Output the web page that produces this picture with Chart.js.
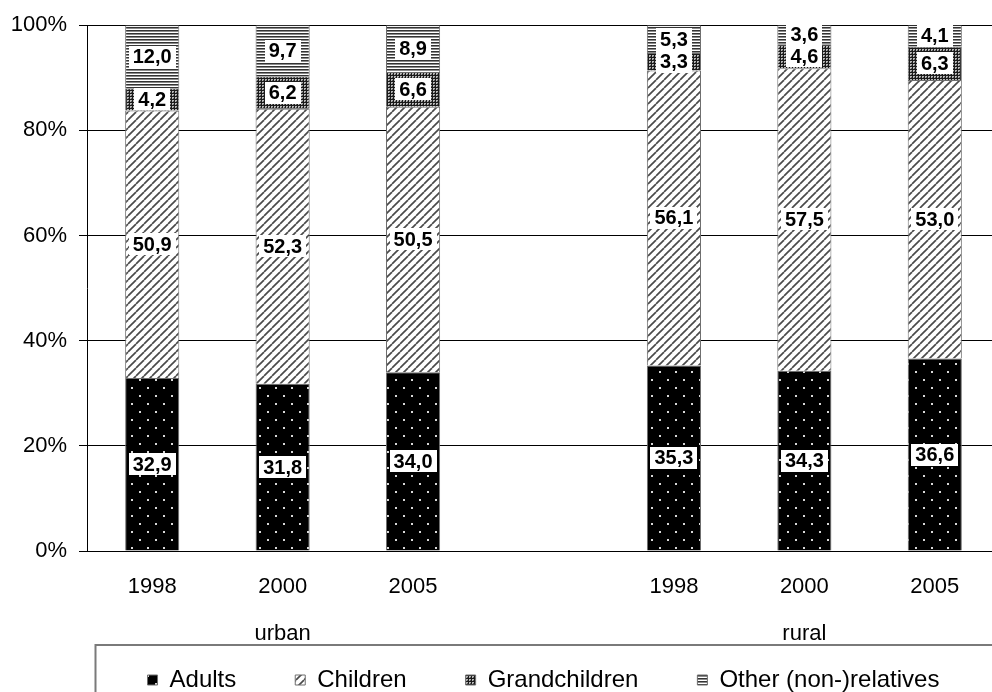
<!DOCTYPE html>
<html>
<head>
<meta charset="utf-8">
<script src="https://cdn.jsdelivr.net/npm/chart.js@4/dist/chart.umd.min.js"></script>
<style>
  html, body { margin: 0; padding: 0; background: #fff; overflow: hidden; }
  #wrap { width: 1010px; height: 737px; }
</style>
</head>
<body>
<div id="wrap"><canvas id="c" width="1010" height="737"></canvas></div>
<script>
// Household composition by relation to head, urban vs rural (percent of members)
const years = ['1998', '2000', '2005', '', '1998', '2000', '2005'];
const areas = ['', 'urban', '', '', '', 'rural', ''];
const adults        = [32.9, 31.8, 34.0, null, 35.3, 34.3, 36.6];
const children      = [50.9, 52.3, 50.5, null, 56.1, 57.5, 53.0];
const grandchildren = [4.2, 6.2, 6.6, null, 3.3, 4.6, 6.3];
const others        = [12.0, 9.7, 8.9, null, 5.3, 3.6, 4.1];
const seriesNames = ['Adults', 'Children', 'Grandchildren', 'Other (non-)relatives'];

const FONT = '"Liberation Sans", Arial, Helvetica, sans-serif';

// --- fill patterns -------------------------------------------------------
function tile(w, h, paint) {
  const cv = document.createElement('canvas');
  cv.width = w; cv.height = h;
  const g = cv.getContext('2d');
  paint(g);
  return document.createElement('canvas').getContext('2d').createPattern(cv, 'repeat');
}
const dotted = tile(16, 16, g => {
  g.fillStyle = '#000'; g.fillRect(0, 0, 16, 16);
  g.fillStyle = '#d8d8d8';
  g.fillRect(3, 3, 2, 2); g.fillRect(11, 11, 2, 2);
});
const hatched = tile(8, 8, g => {
  g.fillStyle = '#fff'; g.fillRect(0, 0, 8, 8);
  g.strokeStyle = '#4a4a4a'; g.lineWidth = 1.7;
  for (let o = -8; o <= 8; o += 8) {
    g.beginPath(); g.moveTo(o, 8); g.lineTo(o + 8, 0); g.stroke();
  }
});
const checked = tile(3, 3, g => {
  g.fillStyle = '#1a1a1a'; g.fillRect(0, 0, 3, 3);
  g.fillStyle = '#b8b8b8'; g.fillRect(1, 1, 2, 2);
  g.fillStyle = '#555'; g.fillRect(2, 2, 1, 1);
});
const striped = tile(3, 3, g => {
  g.fillStyle = '#fff'; g.fillRect(0, 0, 3, 3);
  g.fillStyle = '#333'; g.fillRect(0, 0, 3, 1);
  g.fillStyle = '#8a8a8a'; g.fillRect(0, 1, 3, 1);
});

// --- plugins ---------------------------------------------------------------
// value boxes in the middle of every segment
const valueBoxes = {
  id: 'valueBoxes',
  afterDatasetsDraw(chart) {
    const ctx = chart.ctx;
    ctx.save();
    ctx.font = 'bold 20px ' + FONT;
    ctx.textAlign = 'center';
    ctx.textBaseline = 'middle';
    chart.data.datasets.forEach((ds, di) => {
      const meta = chart.getDatasetMeta(di);
      meta.data.forEach((bar, i) => {
        const v = ds.data[i];
        if (v === null || v === undefined) return;
        const txt = v.toFixed(1).replace('.', ',');
        const cy = (bar.y + bar.base) / 2;
        const w = ctx.measureText(txt).width + 8;
        ctx.fillStyle = '#fff';
        ctx.fillRect(Math.round(bar.x - w / 2), Math.round(cy - 11), Math.round(w), 22);
        ctx.fillStyle = '#000';
        ctx.fillText(txt, bar.x, cy + 1);
      });
    });
    ctx.restore();
  }
};

// legend row sits close to the frame top while items keep wide spacing
const legendFrame = {
  id: 'legendFrame',
  afterLayout(chart) {
    const lg = chart.legend;
    const shift = lg.options.labels.padding - 24;
    lg.top -= shift;
    lg.bottom -= shift;
  },
  afterDraw(chart) {
    const ctx = chart.ctx;
    const x0 = chart.chartArea.left + 8;
    const y0 = chart.scales.x.bottom;
    ctx.save();
    ctx.strokeStyle = '#7a7a7a';
    ctx.lineWidth = 2;
    ctx.strokeRect(x0 + 0.5, y0 + 1, chart.width, 200);
    ctx.restore();
  }
};

const mkSet = (label, data, fill) => ({
  label, data,
  backgroundColor: fill,
  borderColor: '#6e6e6e',
  borderWidth: 1,
  barPercentage: 0.415,
  categoryPercentage: 1
});

new Chart(document.getElementById('c'), {
  type: 'bar',
  data: {
    labels: years.map((y, i) => [y, areas[i]]),
    datasets: [
      mkSet(seriesNames[0], adults, dotted),
      mkSet(seriesNames[1], children, hatched),
      mkSet(seriesNames[2], grandchildren, checked),
      mkSet(seriesNames[3], others, striped)
    ]
  },
  options: {
    responsive: false,
    animation: false,
    devicePixelRatio: 1,
    layout: { padding: { top: 22, right: 10, left: 0, bottom: 0 } },
    scales: {
      x: {
        stacked: true,
        grid: { display: false, drawTicks: false },
        border: { color: '#000', width: 1 },
        ticks: {
          color: '#000',
          font: { family: FONT, size: 22, lineHeight: 47 / 22 },
          padding: 12,
          maxRotation: 0,
          autoSkip: false
        },
        afterFit(s) { s.height = 93; }
      },
      y: {
        stacked: true,
        min: 0,
        max: 100,
        grid: { color: '#000', lineWidth: 1, tickLength: 8 },
        border: { color: '#000', width: 1 },
        ticks: {
          stepSize: 20,
          color: '#000',
          font: { family: FONT, size: 22 },
          padding: 12,
          callback: v => v + '%'
        },
        afterFit(s) { s.width = 87; }
      }
    },
    plugins: {
      tooltip: { enabled: false },
      legend: {
        position: 'bottom',
        fullSize: false,
        labels: {
          color: '#000',
          font: { family: FONT, size: 24 },
          boxWidth: 10,
          boxHeight: 10,
          padding: 59
        }
      }
    }
  },
  plugins: [valueBoxes, legendFrame]
});
</script>
</body>
</html>
